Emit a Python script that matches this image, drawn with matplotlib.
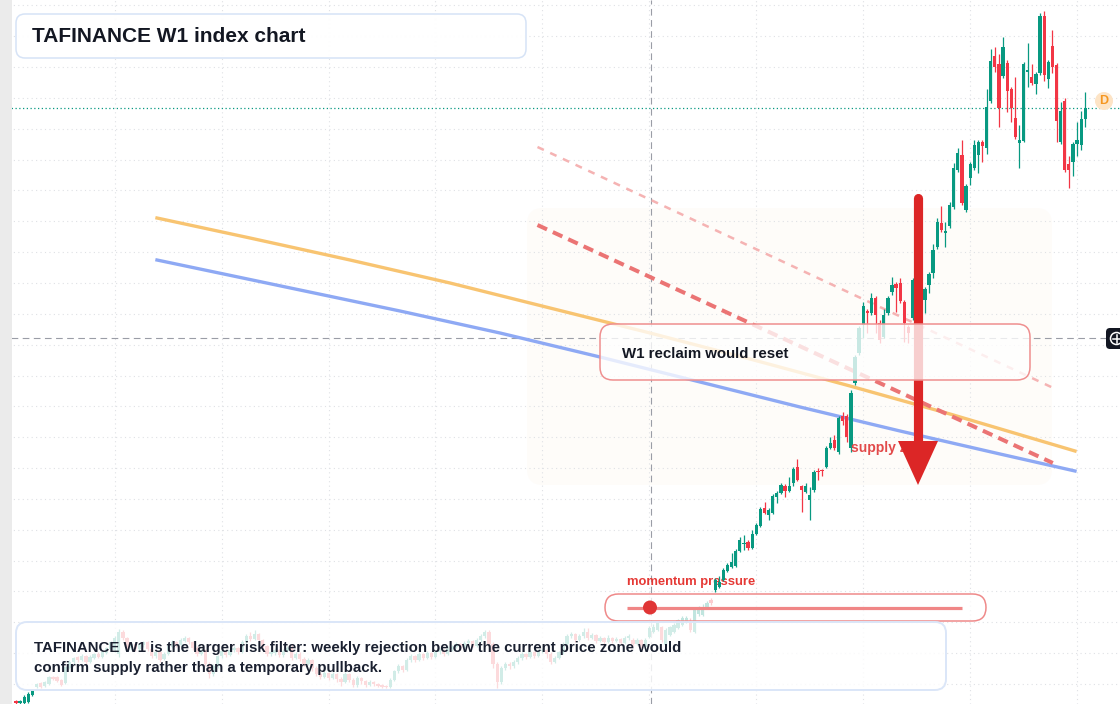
import numpy as np
import matplotlib
matplotlib.use("Agg")
import matplotlib.pyplot as plt
from matplotlib.patches import FancyBboxPatch, Circle, Polygon, Rectangle
import matplotlib.transforms as mtransforms

# ---------------- data (weekly candles, index units) ----------------
opens = [3, 1, 1, 2, 9, 17, 21, 18, 20, 27, 27, 24, 21, 36, 42, 47, 44, 48, 42, 46,
         50, 47, 51, 55, 54, 50, 72, 66, 56, 60, 55, 59, 62, 55, 48, 52, 45, 50, 57, 62,
         59, 63, 66, 62, 56, 50, 54, 40, 30, 38, 48, 53, 49, 54, 56, 52, 62, 68, 65, 70,
         64, 58, 50, 51, 54, 49, 53, 56, 46, 50, 45, 40, 44, 36, 30, 27, 31, 26, 30, 25,
         22, 30, 24, 19, 26, 23, 19, 22, 20, 19, 18, 17, 24, 33, 38, 34, 44, 48, 44, 50,
         46, 51, 47, 52, 54, 50, 55, 57, 60, 56, 61, 63, 58, 64, 68, 72, 60, 40, 22, 36,
         40, 38, 42, 46, 50, 47, 52, 48, 53, 54, 50, 42, 46, 52, 60, 68, 70, 64, 68, 72,
         66, 69, 63, 66, 62, 66, 63, 65, 61, 66, 64, 60, 64, 57, 67, 72, 74, 77, 59, 69,
         72, 76, 79, 82, 82, 72, 90, 89, 96, 104, 114, 117, 124, 133, 137, 138, 153, 160, 162, 156,
         170, 178, 196, 189, 191, 207, 211, 218, 213, 221, 237, 218, 212, 204, 214, 233, 234, 237, 256, 264,
         252, 288, 288, 256, 321, 351, 379, 393, 391, 406, 381, 367, 391, 412, 420, 421, 402, 377, 386, 404,
         419, 404, 419, 431, 457, 481, 471, 478, 497, 534, 549, 494, 526, 536, 549, 562, 556, 603, 648, 640,
         628, 641, 615, 586, 561, 563, 632, 627, 620, 631, 688, 625, 658, 639, 562, 603, 540, 542, 560, 559,
         585]
highs = [4, 4, 9, 12, 15, 21, 22, 23, 28, 28, 28, 25, 38, 44, 47, 48, 50, 49, 49, 51,
         52, 54, 57, 63, 68, 75, 74, 67, 62, 61, 61, 63, 63, 56, 53, 53, 52, 59, 64, 63,
         66, 68, 67, 63, 58, 55, 55, 42, 40, 49, 55, 54, 56, 58, 57, 64, 70, 72, 74, 71,
         65, 59, 54, 56, 55, 55, 58, 60, 52, 52, 47, 46, 45, 38, 32, 33, 32, 32, 31, 27,
         32, 31, 26, 28, 27, 24, 24, 23, 21, 20, 19, 26, 34, 40, 39, 46, 50, 49, 52, 51,
         53, 52, 54, 56, 55, 58, 59, 62, 61, 63, 65, 64, 66, 70, 74, 74, 62, 42, 38, 42,
         42, 44, 48, 52, 51, 54, 53, 55, 56, 55, 52, 48, 53, 62, 70, 72, 71, 70, 76, 76,
         71, 70, 68, 67, 69, 67, 67, 66, 68, 70, 66, 66, 65, 66, 78, 80, 83, 78, 76, 78,
         81, 85, 88, 88, 86, 96, 98, 100, 103, 106, 126, 128, 136, 141, 151, 155, 167, 169, 164, 174,
         181, 197, 202, 196, 210, 213, 221, 220, 227, 237, 245, 219, 221, 217, 234, 236, 235, 258, 267, 269,
         288, 292, 290, 314, 349, 378, 402, 395, 411, 408, 384, 395, 408, 427, 422, 426, 404, 379, 426, 426,
         421, 417, 432, 460, 486, 498, 482, 502, 541, 556, 564, 520, 542, 564, 564, 564, 615, 655, 657, 650,
         667, 644, 617, 627, 579, 642, 661, 640, 632, 691, 693, 644, 674, 641, 602, 606, 548, 562, 582, 593,
         612]
lows = [0, 0, 0, 1, 8, 16, 16, 17, 19, 24, 22, 18, 20, 35, 40, 42, 43, 40, 41, 45,
        46, 46, 50, 54, 52, 47, 64, 54, 54, 53, 53, 57, 53, 46, 46, 42, 44, 49, 56, 57,
        58, 62, 60, 54, 48, 49, 38, 26, 28, 36, 46, 47, 48, 52, 50, 51, 60, 63, 64, 62,
        56, 48, 48, 49, 47, 47, 52, 44, 45, 43, 38, 39, 33, 28, 25, 26, 24, 25, 22, 18,
        21, 22, 17, 17, 20, 17, 18, 18, 17, 16, 16, 16, 23, 31, 32, 33, 42, 42, 43, 44,
        45, 45, 46, 50, 48, 49, 53, 56, 54, 55, 60, 57, 57, 62, 66, 58, 36, 16, 20, 34,
        35, 36, 40, 44, 45, 46, 46, 47, 51, 46, 40, 41, 45, 50, 58, 66, 62, 63, 66, 64,
        65, 61, 62, 60, 61, 61, 62, 59, 60, 64, 58, 59, 56, 56, 66, 71, 73, 62, 58, 68,
        71, 75, 78, 81, 72, 71, 88, 88, 95, 99, 112, 116, 123, 132, 136, 137, 152, 154, 154, 155,
        169, 177, 190, 184, 190, 201, 210, 207, 212, 218, 223, 192, 211, 184, 212, 224, 228, 236, 255, 254,
        250, 279, 262, 252, 319, 349, 366, 371, 389, 371, 361, 366, 389, 409, 392, 401, 362, 361, 384, 398,
        400, 391, 411, 426, 455, 472, 457, 476, 495, 532, 499, 492, 519, 534, 531, 542, 550, 601, 632, 577,
        626, 592, 582, 565, 536, 562, 617, 619, 610, 629, 623, 616, 631, 562, 560, 532, 516, 528, 548, 554,
        577]
closes = [1, 3, 7, 10, 14, 20, 17, 22, 27, 25, 23, 19, 37, 42, 46, 44, 48, 42, 47, 50,
          47, 52, 56, 62, 66, 72, 66, 56, 60, 55, 60, 62, 55, 48, 52, 44, 50, 58, 62, 59,
          64, 66, 62, 56, 50, 54, 40, 30, 38, 48, 53, 49, 54, 56, 52, 62, 68, 65, 70, 64,
          58, 50, 52, 54, 49, 53, 56, 46, 50, 45, 40, 44, 36, 30, 27, 31, 26, 30, 25, 22,
          30, 24, 19, 26, 23, 19, 22, 20, 18, 17, 17, 24, 33, 38, 34, 44, 48, 44, 50, 46,
          51, 47, 52, 54, 50, 55, 57, 60, 56, 61, 63, 58, 64, 68, 72, 60, 40, 22, 36, 40,
          38, 42, 46, 50, 47, 52, 48, 53, 54, 50, 42, 46, 52, 60, 68, 70, 64, 68, 72, 66,
          69, 63, 66, 62, 66, 63, 65, 61, 66, 68, 60, 64, 58, 64, 76, 77, 81, 64, 74, 77,
          79, 84, 86, 86, 74, 94, 96, 96, 101, 101, 124, 122, 134, 139, 142, 153, 164, 161, 156, 170,
          179, 195, 191, 194, 208, 211, 219, 213, 218, 235, 224, 214, 218, 209, 232, 232, 233, 256, 261, 256,
          286, 283, 267, 311, 347, 376, 398, 391, 406, 389, 364, 389, 406, 419, 416, 403, 381, 371, 424, 422,
          406, 415, 430, 454, 482, 474, 473, 499, 536, 551, 501, 518, 540, 559, 562, 558, 597, 643, 637, 596,
          657, 613, 596, 567, 564, 640, 634, 621, 630, 688, 629, 642, 637, 583, 593, 534, 534, 560, 564, 585,
          596]

# moving-average style curves (candle index, value)
ma_fast_idx = [34.28, 56.90, 81.21, 105.53, 129.84, 154.16, 178.47, 202.79, 227.10, 257.49]
ma_fast_val = [486, 466, 444, 421, 396, 371, 345, 318, 290, 253]
ma_slow_idx = [34.28, 69.05, 93.37, 117.69, 142.00, 166.32, 190.63, 214.95, 239.26, 257.49]
ma_slow_val = [444, 414, 393, 371, 347, 322, 297, 273, 250, 233]

# descending trendlines (start/end index, start/end value)
trend_main = ([126.8, 252.1], [479, 241])
trend_upper = ([126.8, 251.7], [557, 317])

last_price = 596
cross_idx = 154.4
cross_price = 366

title = "TAFINANCE W1 index chart"
note_lines = ["TAFINANCE W1 is the larger risk filter: weekly rejection below the current price zone would",
              "confirm supply rather than a temporary pullback."]

# ---------------- figure ----------------
GREEN = "#089981"
RED = "#f23645"
W, H = 1120, 704
fig = plt.figure(figsize=(W / 100, H / 100), dpi=100)
ax = fig.add_axes([0, 0, 1, 1])
ax.set_axis_off()
step = 4.1127
ax.set_xlim(-16 / step, (W - 16) / step)
ax.set_ylim(0, H)

# pixel transform (origin top-left)
PX = mtransforms.Affine2D().scale(0.01, -0.01).translate(0, H / 100) + fig.dpi_scale_trans
FONT = "Liberation Sans"

# grid
for k in range(23):
    ax.axhline(20 + 30.85 * k, color="#dfe1e5", lw=0.8, ls=(0, (1, 3)), zorder=0.5)
for k in range(10):
    ax.axvline(24 + 26 * k, color="#dfe1e5", lw=0.8, ls=(0, (1, 3)), zorder=0.5)

# shaded zone
ax.add_patch(FancyBboxPatch((527, 208), 525, 277, boxstyle="round,pad=0,rounding_size=16",
                            transform=PX, fc="#fefcf9", ec="none", zorder=0.4))

# crosshair
ax.axvline(cross_idx, color="#9a9da6", lw=0.8, ls=(0, (6, 4)), zorder=1.5)
ax.plot([-4, (1106 - 16) / step], [cross_price, cross_price], color="#9a9da6", lw=0.8,
        ls=(0, (6, 4)), zorder=1.5)
# last price line
ax.axhline(last_price, color=GREEN, lw=0.9, ls=(0, (1, 2)), zorder=1.5)

# moving averages and trendlines
ax.plot(ma_fast_idx, ma_fast_val, color="#f8c471", lw=2.4, zorder=2, solid_joinstyle="round")
ax.plot(ma_slow_idx, ma_slow_val, color="#8ea9f4", lw=2.4, zorder=2, solid_joinstyle="round")
ax.plot(trend_upper[0], trend_upper[1], color="#f5b3b3", lw=1.8, ls=(0, (2.8, 2.8)), zorder=2.1)
ax.plot(trend_main[0], trend_main[1], color="#eb7474", lw=2.9, ls=(0, (2.6, 1.6)), zorder=2.1)

# candles
o = np.array(opens, float); c = np.array(closes, float)
hi = np.array(highs, float); lo = np.array(lows, float)
idx = np.arange(len(c))
cols = np.where(c >= o, GREEN, RED)
ax.vlines(idx, lo, hi, colors=cols, lw=0.9, zorder=3)
ax.bar(idx, np.maximum(np.abs(c - o), 1.2), width=0.8, bottom=np.minimum(o, c),
       color=cols, linewidth=0, zorder=3.1)

# supply zone label (under arrow)
ax.text(851, 448, "supply zone", transform=PX, color="#e24a4a", fontsize=10,
        fontweight="bold", family=FONT, ha="left", va="center", zorder=3.5)

# red arrow
ax.plot([918, 918], [197.5, 445], transform=PX, color="#dc2626", lw=6.6,
        solid_capstyle="round", zorder=4)
ax.add_patch(Polygon([(898, 441), (938, 441), (918, 485)], closed=True, transform=PX,
                     fc="#dc2626", ec="none", zorder=4))

# momentum label + pill
ax.text(627, 582, "momentum pressure", transform=PX, color="#e53935", fontsize=9.4,
        fontweight="bold", family=FONT, ha="left", va="center", zorder=2.9)
ax.add_patch(FancyBboxPatch((605, 594), 381, 27, boxstyle="round,pad=0,rounding_size=13.5",
                            transform=PX, fc=(1, 1, 1, 0.75), ec="#ef8a8a", lw=1.1, zorder=5))
ax.plot([627, 962], [607.5, 607.5], transform=PX, color="#f08686", lw=2.3, zorder=5.1,
        solid_capstyle="butt")
ax.add_patch(Circle((650, 607.5), 7, transform=PX, fc="#e03535", ec="none", zorder=5.2))

# reclaim box
ax.add_patch(FancyBboxPatch((600, 324), 430, 56, boxstyle="round,pad=0,rounding_size=13",
                            transform=PX, fc=(1, 1, 1, 0.78), ec="#ef8f8f", lw=1.1, zorder=5))
ax.text(622, 354, "W1 reclaim would reset", transform=PX, color="#131722", fontsize=10.8,
        fontweight="bold", family=FONT, ha="left", va="center", zorder=6)

# bottom note box
ax.add_patch(FancyBboxPatch((16, 622), 930, 68, boxstyle="round,pad=0,rounding_size=11",
                            transform=PX, fc=(1, 1, 1, 0.82), ec="#dbe6f8", lw=1.4, zorder=5))
ax.text(34, 648, note_lines[0], transform=PX, color="#1a2030", fontsize=10.8,
        fontweight="bold", family=FONT, ha="left", va="center", zorder=6)
ax.text(34, 668, note_lines[1], transform=PX, color="#1a2030", fontsize=10.8,
        fontweight="bold", family=FONT, ha="left", va="center", zorder=6)

# title box
ax.add_patch(FancyBboxPatch((16, 14), 510, 44, boxstyle="round,pad=0,rounding_size=9",
                            transform=PX, fc=(1, 1, 1, 0.96), ec="#d6e3f6", lw=1.1, zorder=5))
ax.text(32, 36.5, title, transform=PX, color="#131722", fontsize=15,
        fontweight="bold", family=FONT, ha="left", va="center", zorder=6)

# "D" marker
ax.add_patch(Circle((1104, 101), 9, transform=PX, fc="#fde4c6", ec="none", zorder=6))
ax.text(1104, 101.5, "D", transform=PX, color="#f5961f", fontsize=9, fontweight="bold",
        family=FONT, ha="center", va="center", zorder=6.1)

# crosshair icon at right
ax.add_patch(FancyBboxPatch((1106, 328), 22, 21, boxstyle="round,pad=0,rounding_size=4",
                            transform=PX, fc="#131722", ec="none", zorder=6, clip_on=False))
ax.add_patch(Circle((1116.5, 338.5), 6, transform=PX, fc="none", ec="white", lw=1.1, zorder=6.1))
ax.plot([1112.5, 1120.5], [338.5, 338.5], transform=PX, color="white", lw=1.1, zorder=6.2)
ax.plot([1116.5, 1116.5], [334.5, 342.5], transform=PX, color="white", lw=1.1, zorder=6.2)

# left gray strip
ax.add_patch(Rectangle((0, 0), 12, H, transform=PX, fc="#ebebeb", ec="none", zorder=10))

fig.savefig("out.png", dpi=100)
